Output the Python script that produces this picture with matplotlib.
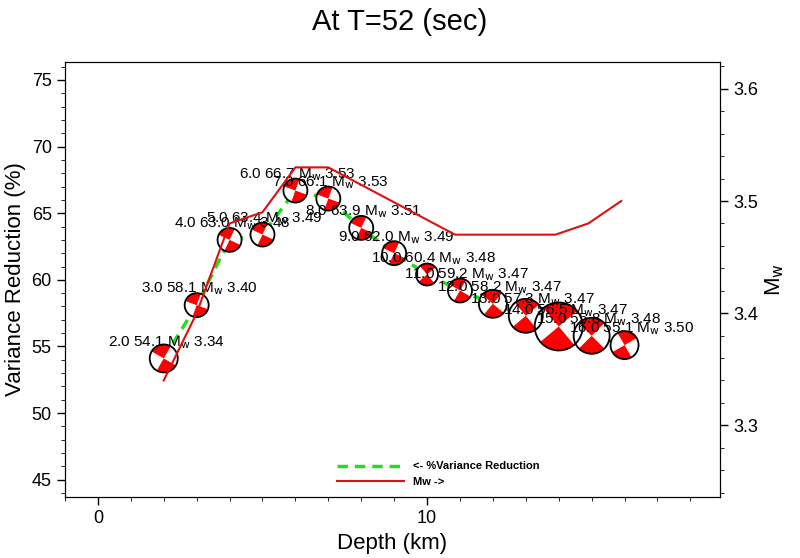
import matplotlib
matplotlib.use("Agg")
import matplotlib.pyplot as plt
from matplotlib.patches import Circle, Wedge
from matplotlib.transforms import IdentityTransform
from matplotlib.lines import Line2D

plt.rcParams['font.family'] = ['Liberation Sans', 'DejaVu Sans']

depth = [2,3,4,5,6,7,8,9,10,11,12,13,14,15,16]
vr = [54.1,58.1,63.0,63.4,66.7,66.1,63.9,62.0,60.4,59.2,58.2,57.3,56.5,55.8,55.1]
mw = [3.34,3.40,3.48,3.49,3.53,3.53,3.51,3.49,3.48,3.47,3.47,3.47,3.47,3.48,3.50]
mw_line_x = [2,3,4,5,6,7,10.85,13.9,14.9,15.9]
mw_line_y = [3.34,3.40,3.48,3.49,3.53,3.53,3.47,3.47,3.48,3.50]
radius_px = [14,12,12,12,12,12,12,12,11,12,14,17,24,18,14]
strike = [60,70,65,65,70,70,65,65,40,60,50,40,40,45,30]

fig = plt.figure(figsize=(8,5.58), dpi=100)
ax = fig.add_axes([65/800, 1-497/558, 655/800, 435/558])
ax.set_xlim(-1, 18.9)
ax.set_ylim(43.7, 76.35)
ax2 = ax.twinx()
ax2.set_ylim(3.236, 3.624)

ax.plot(depth, vr, color='#22dd22', lw=2.5, ls=(0,(3,2)), zorder=2)
ax2.plot(mw_line_x, mw_line_y, color='#dd1111', lw=1.5, zorder=1)

ax.set_xticks([0,10]); ax.set_xticks(range(-1,19), minor=True)
ax.set_yticks([45,50,55,60,65,70,75]); ax.set_yticks(range(44,77), minor=True)
ax2.set_yticks([3.3,3.4,3.5,3.6])
ax2.set_yticks([3.24+0.02*i for i in range(20)], minor=True)
for a in (ax, ax2):
    a.tick_params(direction='out', labelsize=13, length=6, width=1)
    a.tick_params(which='minor', direction='out', length=3)
ax.set_xlabel('Depth (km)', fontsize=16)
ax.set_ylabel('Variance Reduction (%)', fontsize=16)
ax2.set_ylabel('M$_\\mathrm{w}$', fontsize=16)
fig.suptitle('At T=52 (sec)', fontsize=21, y=0.985)

legend_handles = [Line2D([],[],color='#22dd22',lw=2.5,ls=(0,(3,2))),
                  Line2D([],[],color='#dd1111',lw=1.5)]
ax.legend(legend_handles, ['<- %Variance Reduction','Mw ->'], loc='lower left',
          bbox_to_anchor=(0.4,0.0), frameon=False, prop={'weight':'bold','size':8},
          handlelength=6)

fig.canvas.draw()
for d, v, m, r, s in zip(depth, vr, mw, radius_px, strike):
    px, py = ax.transData.transform((d, v))
    ax.add_artist(Circle((px,py), r, transform=IdentityTransform(), facecolor='white',
                         edgecolor='none', zorder=5))
    for a0 in (s, s+180):
        ax.add_artist(Wedge((px,py), r, a0, a0+90, transform=IdentityTransform(),
                            facecolor='red', edgecolor='none', zorder=6))
    ax.add_artist(Circle((px,py), r, transform=IdentityTransform(), facecolor='none',
                         edgecolor='black', lw=1.3, zorder=7))
    tx, ty = ax.transData.inverted().transform((px-56, py+16))
    ax.text(tx, ty, f'{d:.1f} {v:.1f} M$_\\mathrm{{w}}$ {m:.2f}', fontsize=11,
            va='center', ha='left', zorder=8)

fig.savefig('out.png', dpi=100)
